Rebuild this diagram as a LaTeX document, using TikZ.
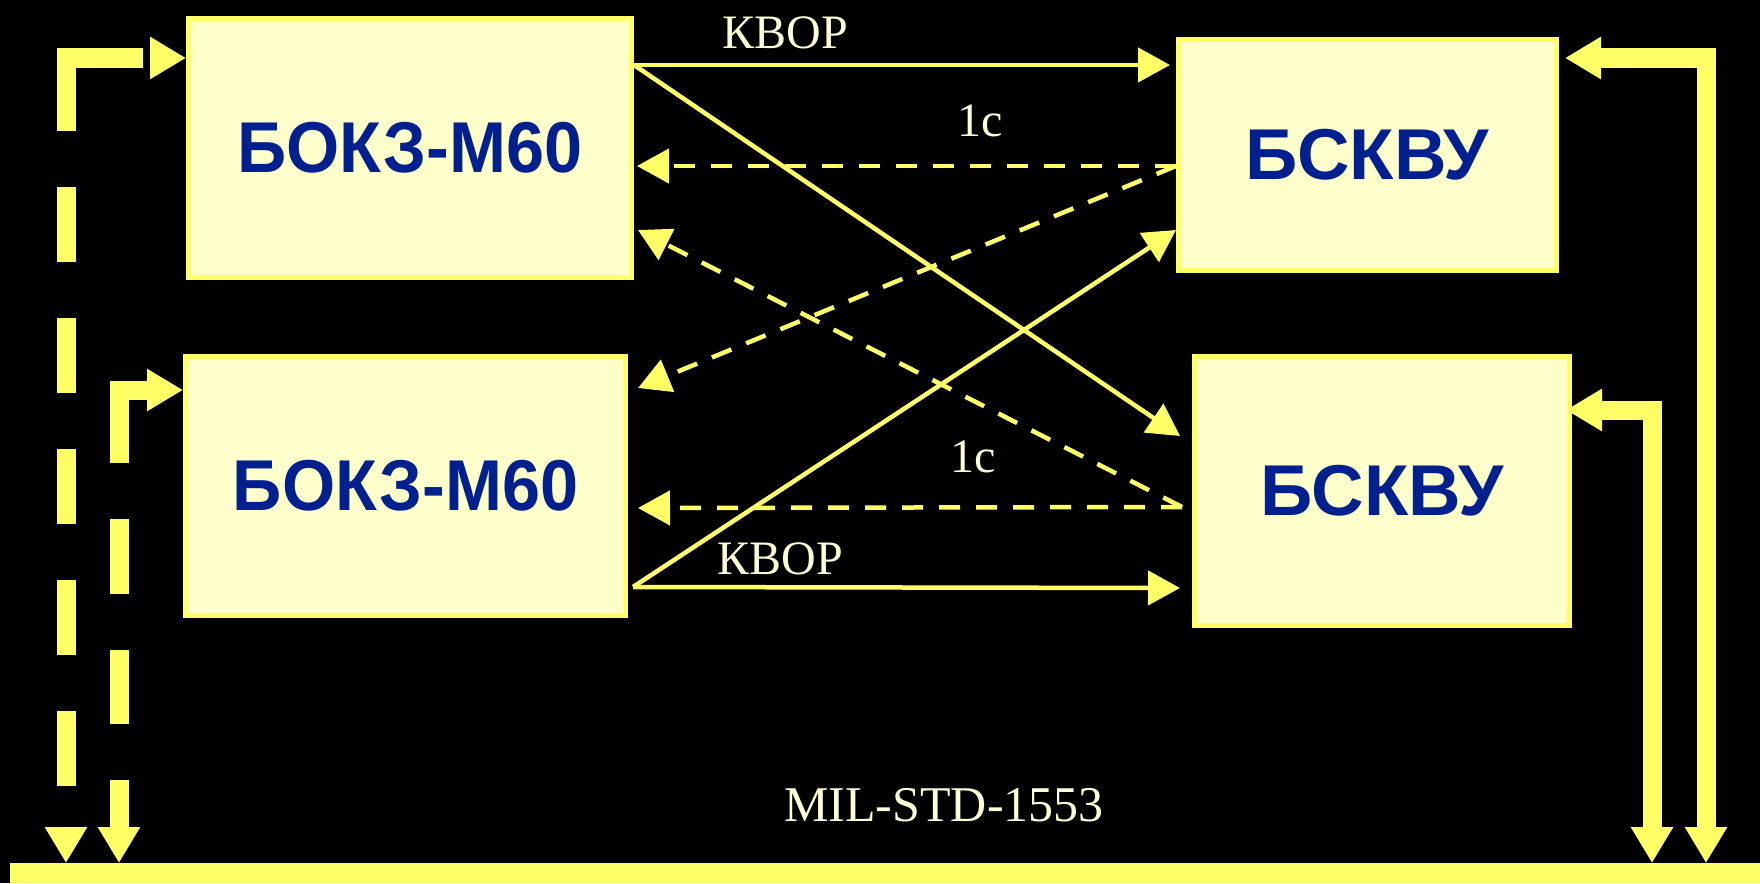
\documentclass[tikz,border=0pt]{standalone}
\usepackage{fontspec}
\setmainfont{Liberation Serif}
\newfontfamily\boxfont{Liberation Sans}[FakeStretch=0.95]
\newfontfamily\boxfontw{Liberation Sans}[FakeStretch=1.01]
\usetikzlibrary{arrows.meta,calc}
\definecolor{ylw}{HTML}{FFFF66}
\definecolor{boxfill}{HTML}{FFFFCC}
\definecolor{navy}{HTML}{00208F}
\definecolor{cream}{HTML}{FFFFD6}
\begin{document}
\begin{tikzpicture}[x=1pt,y=-1pt,
  blk/.style={draw=ylw, fill=boxfill, line width=5pt, inner sep=0pt,
    font=\boxfont\bfseries\fontsize{72}{80}\selectfont, text=navy},
  blkw/.style={blk, font=\boxfontw\bfseries\fontsize{72}{80}\selectfont},
  lbl/.style={text=cream, inner sep=0pt, font=\fontsize{48}{56}\selectfont},
  thinarrow/.style={draw=ylw, line width=4.5pt, -{Triangle[length=32pt,width=34pt]}},
  dsharrow/.style={thinarrow, dash pattern=on 21pt off 16pt},
  thickarrow/.style={draw=ylw, line width=19pt,
    {Triangle[length=36pt,width=40pt]}-{Triangle[length=36pt,width=40pt]}}
]
\useasboundingbox (0,0) rectangle (1760,883);
\fill[black] (0,0) rectangle (1760,883);

% blocks
\node[blk, minimum width=443pt, minimum height=259pt] (b1) at (410,148) {БОКЗ-М60};
\node[blk, minimum width=440pt, minimum height=259pt] (b2) at (405.5,486) {БОКЗ-М60};
\node[blkw, minimum width=378pt, minimum height=231pt] (b3) at (1367.5,155) {БСКВУ};
\node[blkw, minimum width=375pt, minimum height=269pt] (b4) at (1382,491) {БСКВУ};

% bus
\node[fill=ylw, minimum width=1750pt, minimum height=20pt, inner sep=0pt, anchor=north west] (bus) at (10,863) {};

% ports
\coordinate (b1o) at (634,65);
\coordinate (b2o) at (633,587);
\coordinate (b3i) at (1170,65);
\coordinate (b3d) at (1176,166);
\coordinate (b3s) at (1176,230);
\coordinate (b4s) at (1180,436);
\coordinate (b4d) at (1182,507);
\coordinate (b4k) at (1180,588);
\coordinate (b1c) at (637,166);
\coordinate (b1d) at (638,230);
\coordinate (b2d) at (638,388);
\coordinate (b2c) at (638,508);

\coordinate (b1l) at (186,58);
\coordinate (b2l) at (183,390);
\coordinate (b3r) at (1565,58);
\coordinate (b4r) at (1566,410);
\coordinate (busA) at (66,863);
\coordinate (busB) at (119,863);
\coordinate (busC) at (1652,863);
\coordinate (busD) at (1706,863);

% thin connectors
\draw[thinarrow] (b1o) -- (b3i);
\draw[thinarrow] (b1o) -- (b4s);
\draw[thinarrow] (b2o) -- (b4k);
\draw[thinarrow] (b2o) -- (b3s);
\draw[dsharrow] (b3d) -- (b1c);
\draw[dsharrow] (b3d) -- (b2d);
\draw[dsharrow] (b4d) -- (b1d);
\draw[dsharrow] (b4d) -- (b2c);

% thick bus connectors
\draw[thickarrow, dash pattern=on 0pt off 9pt on 150pt off 56pt on 75pt off 56pt on 75pt off 56pt on 75pt off 56pt on 75pt off 56pt on 75pt off 200pt]
  (b1l) -| (busA);
\draw[thickarrow, dash pattern=on 103pt off 56pt on 75pt off 56pt on 74pt off 56pt on 100pt off 100pt]
  (b2l) -| (busB);
\draw[thickarrow] (b3r) -| (busD);
\draw[thickarrow] (b4r) -| (busC);

% labels
\node[lbl] (l1) at (785,33) {КВОР};
\node[lbl] (l2) at (980,121) {1с};
\node[lbl] (l3) at (973,457) {1с};
\node[lbl] (l4) at (780,559) {КВОР};
\node[lbl, font=\fontsize{50}{58}\selectfont] (l5) at (944,805) {MIL-STD-1553};
\end{tikzpicture}
\end{document}
